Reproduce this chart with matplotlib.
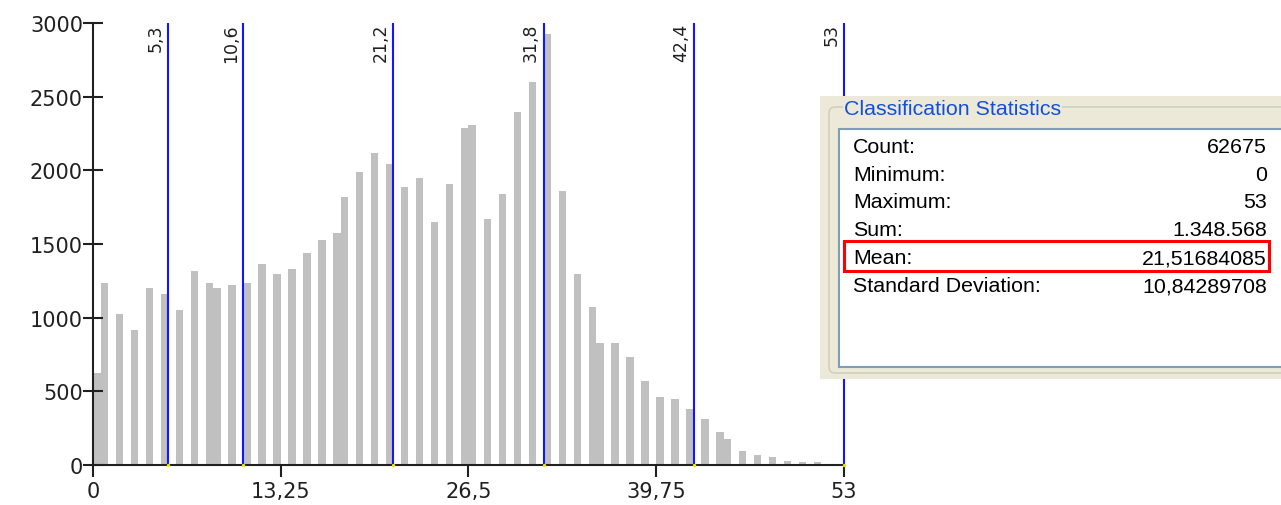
import matplotlib
matplotlib.use('Agg')
import matplotlib.pyplot as plt
from matplotlib.patches import Rectangle, FancyBboxPatch
import numpy as np

plt.rc('font', family='DejaVu Sans')

# pixel values 0..53 and how many cells carry each value
values = np.arange(0, 54)
counts = [627, 1238, 1023, 915, 1198, 1159, 1050, 1320, 1238, 1198,
          1225, 1238, 1361, 1293, 1333, 1442, 1524, 1578, 1822, 1988,
          2121, 2040, 1890, 1945, 1646, 1904, 2284, 2311, 1673, 1836,
          2393, 2599, 2927, 1863, 1293, 1075, 831, 831, 736, 570,
          462, 451, 378, 312, 222, 176, 97, 68, 57, 29,
          18, 18, 5, 2]
n_bins = 100
breaks = [5.3, 10.6, 21.2, 31.8, 42.4, 53]
xticks = [0, 13.25, 26.5, 39.75, 53]
yticks = [0, 500, 1000, 1500, 2000, 2500, 3000]

stat_labels = ['Count:', 'Minimum:', 'Maximum:', 'Sum:', 'Mean:',
               'Standard Deviation:']
stat_values = ['62675', '0', '53', '1.348.568', '21,51684085',
               '10,84289708']
highlight = 'Mean:'


def comma(v):
    s = '{:g}'.format(v)
    return s.replace('.', ',')


W, H = 1281, 506
fig = plt.figure(figsize=(W / 100, H / 100), dpi=100)
ax = fig.add_axes([93 / W, 40 / H, 751 / W, 442 / H])

ax.hist(values, bins=n_bins, range=(0, 53), weights=counts,
        color='#c0c0c0', zorder=1)
for b in breaks:
    ax.plot([b, b], [0, 3000], color='#1414ff', lw=1.5, zorder=3,
            solid_capstyle='butt', clip_on=False)
    ax.text(b - 0.25, 3000, comma(b), rotation=90, ha='right', va='top',
            fontsize=12.5, color='#202020')
ax.scatter(breaks, [0] * len(breaks), s=2, color='#e8e800', zorder=5,
           clip_on=False)

ax.set_xlim(0, 53)
ax.set_ylim(0, 3000)
ax.set_xticks(xticks)
ax.set_xticklabels([comma(t) for t in xticks])
ax.set_yticks(yticks)
for side in ('top', 'right'):
    ax.spines[side].set_visible(False)
for side in ('left', 'bottom'):
    ax.spines[side].set_linewidth(1.5)
    ax.spines[side].set_color('#202020')
ax.tick_params(axis='y', direction='inout', length=14.5, width=1.5,
               pad=0, labelsize=15, colors='#202020')
ax.tick_params(axis='x', direction='out', length=8.6, width=1.5,
               pad=3, labelsize=15, colors='#202020')

# statistics panel drawn in pixel coordinates on top
ov = fig.add_axes([0, 0, 1, 1], zorder=10)
ov.set_xlim(0, W)
ov.set_ylim(H, 0)
ov.axis('off')
ov.patch.set_alpha(0)

ov.add_patch(Rectangle((820, 97), 470, 283, facecolor='#ece9d8',
                       edgecolor='none'))
ov.add_patch(FancyBboxPatch((829, 108), 470, 266,
                            boxstyle='round,pad=0,rounding_size=6',
                            facecolor='none', edgecolor='#d0d0bf', lw=1.2))
ov.text(844, 109, 'Classification Statistics', ha='left', va='center',
        fontsize=15.4, color='#1050d8', family='Liberation Sans',
        bbox=dict(facecolor='#ece9d8', edgecolor='none', pad=1))
ov.add_patch(Rectangle((839, 130), 460, 238, facecolor='white',
                       edgecolor='#7f9db9', lw=1.5))

row_y = [147, 175, 203, 231, 259, 287]
for lab, val, y in zip(stat_labels, stat_values, row_y):
    ov.text(853, y, lab, ha='left', va='center', fontsize=15.4,
            family='Liberation Sans', color='black')
    ov.text(1267, y, val, ha='right', va='center', fontsize=15.4,
            family='Liberation Sans', color='black')
    if lab == highlight:
        ov.add_patch(Rectangle((844, y - 17), 425, 30, facecolor='none',
                               edgecolor='#ff0000', lw=2.2))

fig.savefig('out.png', dpi=100)
